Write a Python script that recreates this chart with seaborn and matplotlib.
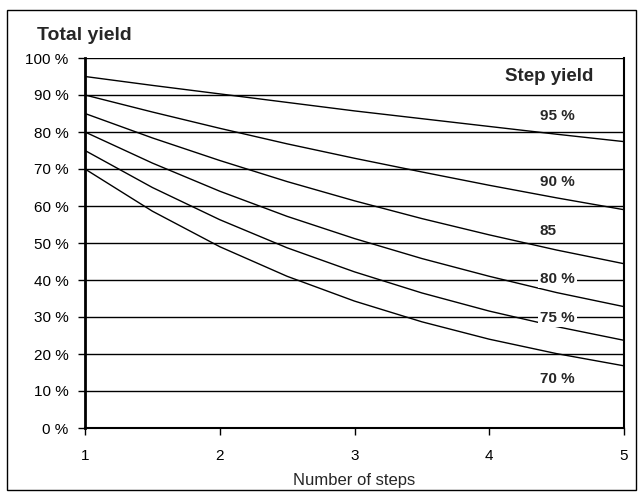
import matplotlib
matplotlib.use("Agg")
import matplotlib.pyplot as plt
import seaborn as sns
import pandas as pd
from matplotlib.patches import Rectangle

# number of steps and total yield (%) for each step yield
steps = [1, 1.5, 2, 2.5, 3, 3.5, 4, 4.5, 5]
y95 = [95.0, 92.6, 90.3, 88.0, 85.7, 83.6, 81.5, 79.4, 77.4]
y90 = [90.0, 85.4, 81.0, 76.8, 72.9, 69.2, 65.6, 62.2, 59.0]
y85 = [85.0, 78.4, 72.3, 66.6, 61.4, 56.6, 52.2, 48.1, 44.4]
y80 = [80.0, 71.6, 64.0, 57.2, 51.2, 45.8, 41.0, 36.6, 32.8]
y75 = [75.0, 65.0, 56.3, 48.7, 42.2, 36.5, 31.6, 27.4, 23.7]
y70 = [70.0, 58.6, 49.0, 41.0, 34.3, 28.7, 24.0, 20.1, 16.8]

series = {"95 %": y95, "90 %": y90, "85": y85, "80 %": y80, "75 %": y75, "70 %": y70}
# where each curve label sits (data coords)
label_y = {"95 %": 84.3, "90 %": 66.5, "85": 53.2, "80 %": 40.3, "75 %": 29.7, "70 %": 13.2}

rows = []
for name, vals in series.items():
    for s, v in zip(steps, vals):
        rows.append({"steps": s, "yield": v, "step_yield": name})
df = pd.DataFrame(rows)

sns.set_style("white")
plt.rcParams["font.family"] = ["Liberation Sans", "DejaVu Sans"]

fig = plt.figure(figsize=(6.42, 4.93), dpi=100)
ax = fig.add_axes([85 / 642, 1 - 428 / 493, (624 - 85) / 642, (428 - 58) / 493])

# horizontal gridlines
for g in range(10, 101, 10):
    ax.axhline(g, color="black", lw=1.0, zorder=1)

sns.lineplot(data=df, x="steps", y="yield", hue="step_yield",
             palette=["black"] * 6, linewidth=1.0, legend=False, ax=ax, zorder=2)

ax.set_xlim(1, 5)
ax.set_ylim(0, 100)
ax.set_xticks([1, 2, 3, 4, 5])
ax.set_yticks(range(0, 101, 10))
ax.set_yticklabels([f"{v} %" for v in range(0, 101, 10)])
ax.tick_params(axis="both", direction="out", length=5, width=1, colors="black",
               labelsize=11, left=True, bottom=True)
ax.tick_params(axis="x", pad=10)
ax.tick_params(axis="y", pad=7)
ax.set_xlabel("Number of steps", fontsize=12, labelpad=7)
ax.set_ylabel("")

ax.spines["top"].set_visible(False)
ax.spines["left"].set_linewidth(2)
ax.spines["bottom"].set_linewidth(1.5)
ax.spines["right"].set_linewidth(1.5)
for sp in ax.spines.values():
    sp.set_color("black")

for name, yv in label_y.items():
    ax.text(4.375, yv, name, fontsize=11, fontweight="bold", ha="left", va="center",
            bbox=dict(facecolor="white", edgecolor="none", pad=1.5), zorder=5)
ax.text(4.77, 94.9, "Step yield", fontsize=13.5, fontweight="bold", ha="right", va="center",
        bbox=dict(facecolor="white", edgecolor="none", pad=1), zorder=5)

fig.text(37 / 642, 1 - 35 / 493, "Total yield", fontsize=14, fontweight="bold",
         ha="left", va="center")

fig.patches.append(Rectangle((7 / 642, 1 - 490 / 493), 629 / 642, 480 / 493,
                             transform=fig.transFigure, fill=False,
                             edgecolor="black", lw=1))

fig.savefig("out.png", dpi=100)
